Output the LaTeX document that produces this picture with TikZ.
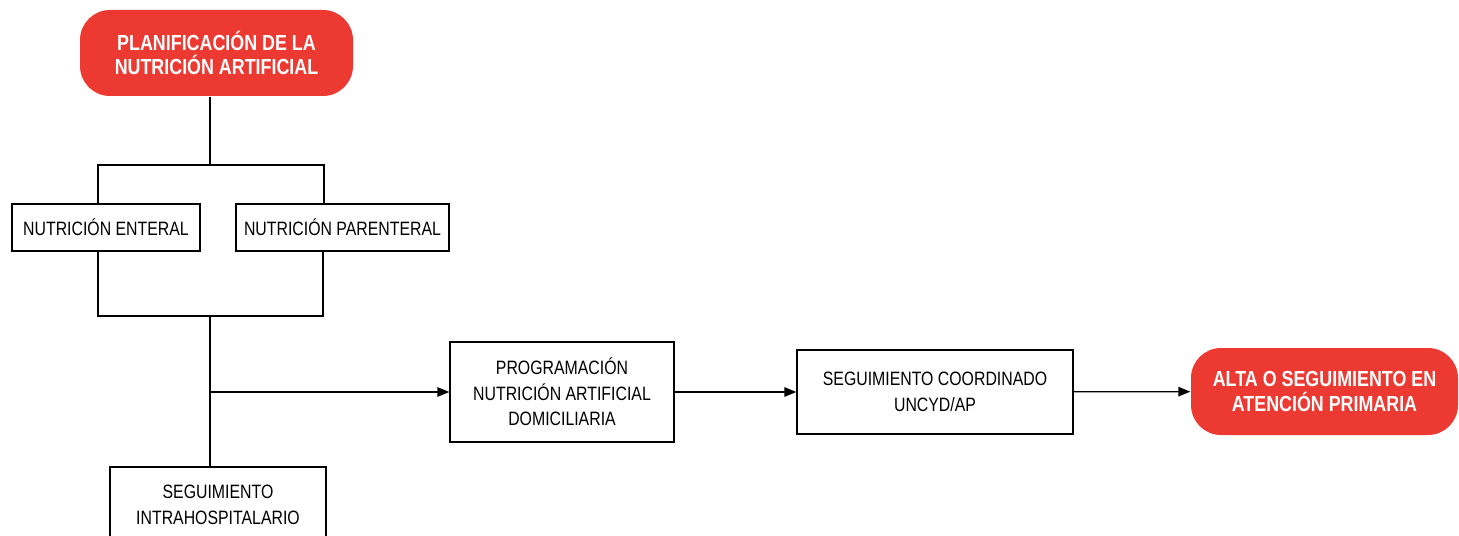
\documentclass[tikz,border=0pt]{standalone}
\usepackage{fontspec}
\setmainfont{Liberation Sans}[FakeStretch=0.82]
\usetikzlibrary{arrows.meta}
\definecolor{alertred}{RGB}{236,58,50}

\begin{document}
\begin{tikzpicture}[
    >={Triangle[length=2.4mm, width=1.9mm]},
    line width=0.75pt,
    plainbox/.style={draw, line width=0.75pt, align=center, inner sep=0pt,
      font=\fontsize{11}{14.5}\selectfont},
    redbox/.style={fill=alertred, text=white, rounded corners=0.6cm, align=center,
      inner sep=0pt, font=\fontsize{12.4}{13.8}\selectfont\bfseries}
  ]
    \useasboundingbox (0, 0) rectangle (29.18, 10.7);

    \node[redbox, minimum width=5.46cm, minimum height=1.72cm] (plan) at (4.33, 9.64) {PLANIFICACIÓN DE LA\\NUTRICIÓN ARTIFICIAL};

    \node[plainbox, minimum width=3.76cm, minimum height=0.94cm] (enteral) at (2.12, 6.15) {NUTRICIÓN ENTERAL};
    \node[plainbox, minimum width=4.26cm, minimum height=0.94cm] (parenteral) at (6.85, 6.15) {NUTRICIÓN PARENTERAL};

    \node[plainbox, minimum width=4.48cm, minimum height=2.0cm] (prog) at (11.24, 2.86) {PROGRAMACIÓN\\NUTRICIÓN ARTIFICIAL\\DOMICILIARIA};
    \node[plainbox, minimum width=5.52cm, minimum height=1.68cm] (coord) at (18.7, 2.86) {SEGUIMIENTO COORDINADO\\UNCYD/AP};
    \node[redbox, minimum width=5.34cm, minimum height=1.74cm] (alta) at (26.49, 2.87) {ALTA O SEGUIMIENTO EN\\ATENCIÓN PRIMARIA};

    \node[plainbox, minimum width=4.32cm, minimum height=1.52cm] (intra) at (4.36, 0.6) {SEGUIMIENTO\\INTRAHOSPITALARIO};

    \coordinate (split) at (4.2, 7.4);
    \coordinate (entx) at (1.96, 7.4);
    \coordinate (parx) at (6.48, 7.4);
    \coordinate (join) at (4.2, 4.38);
    \coordinate (entb) at (1.96, 4.38);
    \coordinate (parb) at (6.46, 4.38);
    \coordinate (branch) at (4.2, 2.86);

    % Lines
    \draw (plan.south -| split) -- (split);
    \draw (enteral.north -| entx) -- (entx) -- (parx) -- (parenteral.north -| parx);
    \draw (enteral.south -| entb) -- (entb) -- (parb) -- (parenteral.south -| parb);
    \draw (join) -- (intra.north -| join);

    % Arrows
    \draw[->] (branch) -- (prog);
    \draw[->] (prog) -- (coord);
    \draw[->] (coord) -- (alta);

\end{tikzpicture}
\end{document}
